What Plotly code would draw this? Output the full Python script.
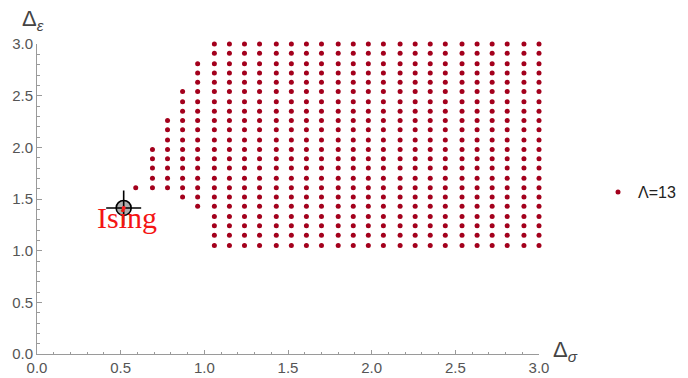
import plotly.graph_objects as go

# ---- data ----
sigma_cols = [0.59, 0.69, 0.78, 0.87, 0.96, 1.06, 1.15, 1.24, 1.33, 1.43, 1.52, 1.61, 1.70,
              1.80, 1.89, 1.98, 2.07, 2.17, 2.26, 2.35, 2.44, 2.54, 2.63, 2.72, 2.81, 2.91, 3.00]
eps_rows = [3.00, 2.91, 2.81, 2.72, 2.63, 2.54, 2.44, 2.35, 2.26, 2.17, 2.07,
            1.98, 1.89, 1.80, 1.70, 1.61, 1.52, 1.43, 1.33, 1.24, 1.15, 1.05]
# index range (top row, bottom row) of allowed points in each column
col_top = [15, 11, 8, 5, 2] + [0] * 22
col_bottom = [15, 15, 15, 16, 17] + [21] * 22

ising_x = [0.518]
ising_y = [1.413]

x_ticks = [0.0, 0.5, 1.0, 1.5, 2.0, 2.5, 3.0]
y_ticks = [0.0, 0.5, 1.0, 1.5, 2.0, 2.5, 3.0]
tick_text = ["0.0", "0.5", "1.0", "1.5", "2.0", "2.5", "3.0"]

# ---- build point list ----
px, py = [], []
for xv, t, b in zip(sigma_cols, col_top, col_bottom):
    for yv in eps_rows[t:b + 1]:
        px.append(xv)
        py.append(yv)

DOT = "#a3001c"
W, H = 688, 378
L, R, T, B = 37, 149, 44, 24

fig = go.Figure()
fig.add_trace(go.Scatter(
    x=px, y=py, mode="markers", name="Λ=13",
    marker=dict(size=5, color=DOT), cliponaxis=False, showlegend=True))

# Ising marker: gray circle, crosshair, red center
fig.add_trace(go.Scatter(x=ising_x, y=ising_y, mode="markers", showlegend=False,
                         cliponaxis=False,
                         marker=dict(symbol="circle", size=15, color="rgba(160,160,160,0.85)",
                                     line=dict(color="black", width=1.6))))
fig.add_trace(go.Scatter(x=ising_x, y=ising_y, mode="markers", showlegend=False,
                         cliponaxis=False,
                         marker=dict(symbol="cross-thin", size=25,
                                     line=dict(color="black", width=1.6))))
fig.add_trace(go.Scatter(x=ising_x, y=ising_y, mode="markers", showlegend=False,
                         cliponaxis=False,
                         marker=dict(symbol="circle", size=4, color="#ff2020")))

fig.add_annotation(x=ising_x[0], y=ising_y[0], xref="x", yref="y",
                   text="Ising", showarrow=False, xanchor="center", yanchor="top",
                   xshift=3, yshift=9,
                   font=dict(family="Liberation Serif", size=30, color="#f41414"))

# axis labels
fig.add_annotation(x=0, y=1, xref="paper", yref="paper", text="Δ<sub><i>ε</i></sub>",
                   showarrow=False, xanchor="center", yanchor="bottom", xshift=-4, yshift=8,
                   font=dict(family="Liberation Sans", size=22, color="#444444"))
fig.add_annotation(x=1, y=0, xref="paper", yref="paper", text="Δ<sub><i>σ</i></sub>",
                   showarrow=False, xanchor="left", yanchor="middle", xshift=12, yshift=3,
                   font=dict(family="Liberation Sans", size=22, color="#444444"))

axis_common = dict(
    showgrid=False, zeroline=False, showline=True, linecolor="#9a9a9a", linewidth=1,
    ticks="inside", ticklen=4.5, tickwidth=1, tickcolor="#9a9a9a", automargin=False,
    tickfont=dict(family="Liberation Sans", size=15, color="#555555"),
    minor=dict(dtick=0.1, ticks="inside", ticklen=2.5, tickcolor="#9a9a9a", tickwidth=1),
)
fig.update_xaxes(range=[0, 3], tickvals=x_ticks, ticktext=tick_text, **axis_common)
fig.update_yaxes(range=[0, 3], tickvals=y_ticks, ticktext=tick_text, **axis_common)

fig.update_layout(
    width=W, height=H, autosize=False,
    margin=dict(l=L, r=R, t=T, b=B, pad=0, autoexpand=False),
    paper_bgcolor="white", plot_bgcolor="white",
    showlegend=True,
    legend=dict(x=(598 - L) / (W - L - R), y=(354 - 192) / (354 - 44),
                xanchor="left", yanchor="middle",
                font=dict(family="Liberation Sans", size=16, color="#222222"),
                bgcolor="rgba(0,0,0,0)", borderwidth=0),
)

fig.write_html("out.html", config={"displayModeBar": False},
               post_script="document.body.style.margin='0px';document.body.style.overflow='hidden';")
